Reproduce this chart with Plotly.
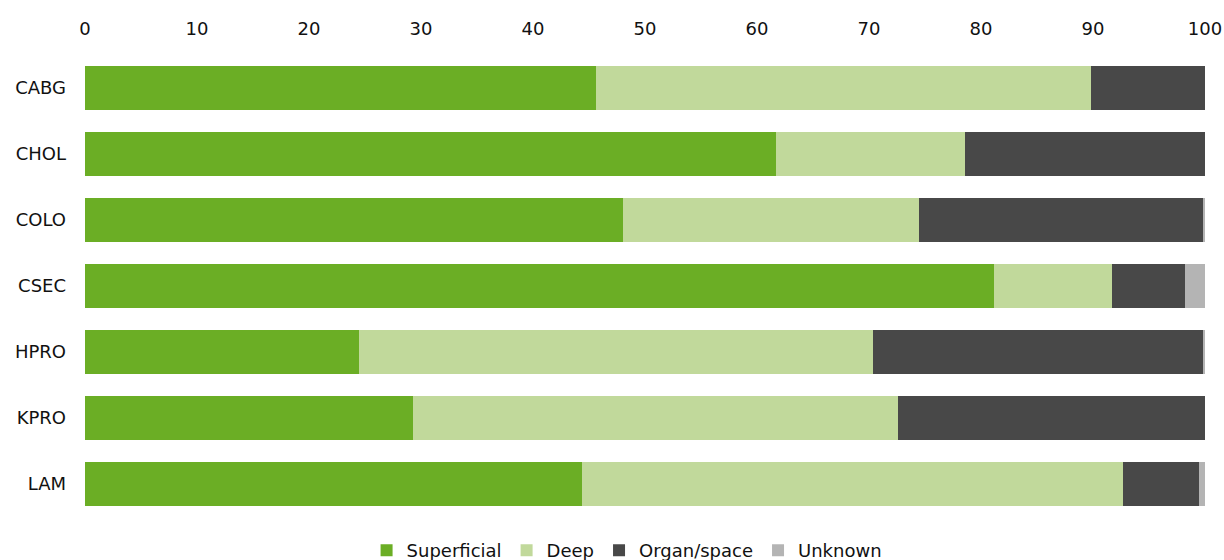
import plotly.graph_objects as go

categories = ["CABG", "CHOL", "COLO", "CSEC", "HPRO", "KPRO", "LAM"]
superficial = [45.6, 61.7, 48.0, 81.2, 24.5, 29.3, 44.4]
deep = [44.2, 16.9, 26.5, 10.5, 45.9, 43.3, 48.3]
organ_space = [10.2, 21.4, 25.3, 6.5, 29.4, 27.4, 6.8]
unknown = [0.0, 0.0, 0.2, 1.8, 0.2, 0.0, 0.5]
x_ticks = [0, 10, 20, 30, 40, 50, 60, 70, 80, 90, 100]

series = [
    ("Superficial", superficial, "#6BAE25"),
    ("Deep", deep, "#C1D99B"),
    ("Organ/space", organ_space, "#484848"),
    ("Unknown", unknown, "#B4B4B4"),
]

fig = go.Figure()
for name, vals, color in series:
    fig.add_trace(go.Bar(
        name=name, y=categories, x=vals, orientation="h",
        marker=dict(color=color, line=dict(width=0)),
    ))

FONT = "DejaVu Sans"
fig.update_layout(
    width=1224, height=560,
    barmode="stack", bargap=0.333,
    paper_bgcolor="white", plot_bgcolor="white",
    margin=dict(l=85, r=19, t=55, b=43, autoexpand=False),
    font=dict(family=FONT, size=18, color="#111111"),
    xaxis=dict(
        side="top", range=[0, 100], tickvals=x_ticks, automargin=False,
        showgrid=False, zeroline=False, showline=False, ticks="",
        ticklabelstandoff=15, tickfont=dict(size=18, family=FONT),
    ),
    yaxis=dict(
        autorange="reversed", showgrid=False, zeroline=False, showline=False,
        automargin=False,
        ticks="", ticklabelstandoff=18, tickfont=dict(size=18, family=FONT),
    ),
    legend=dict(
        orientation="h", x=0.484, xanchor="center",
        yref="container", y=0.017, yanchor="middle",
        font=dict(size=18, family=FONT), traceorder="normal",
        itemsizing="constant", itemwidth=30,
    ),
)

fig.write_html(
    "out.html",
    config={"displayModeBar": False},
    post_script="document.body.style.margin='0';document.body.style.overflow='hidden';",
)
